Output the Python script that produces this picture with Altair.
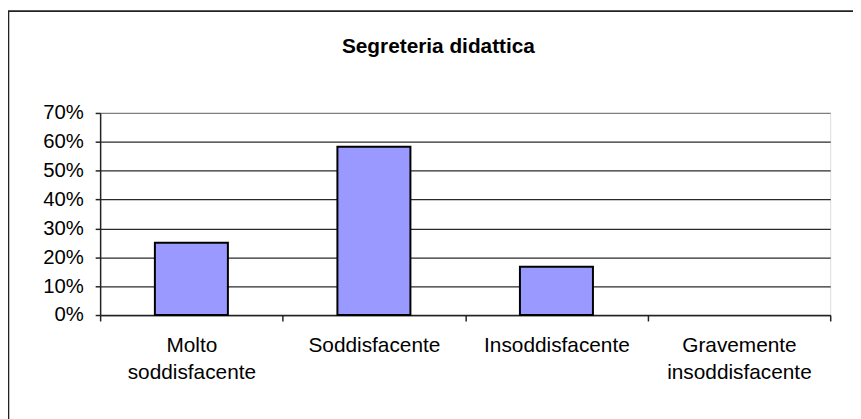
import altair as alt
import pandas as pd

categories = ["Molto soddisfacente", "Soddisfacente", "Insoddisfacente", "Gravemente insoddisfacente"]
values = [0.25, 0.583, 0.167, 0.0]
y_ticks = [0, 0.1, 0.2, 0.3, 0.4, 0.5, 0.6, 0.7]
title_text = "Segreteria didattica"

df = pd.DataFrame({"cat": categories, "val": values})

FONT = "Liberation Sans"

bars = alt.Chart(df).mark_bar(
    width=alt.RelativeBandSize(0.4), color="#9999FF", stroke="#000000", strokeWidth=2
).encode(
    x=alt.X("cat:N", sort=categories, title=None,
            scale=alt.Scale(paddingInner=0, paddingOuter=0),
            axis=alt.Axis(labelAngle=0, tickBand="extent", tickSize=6, labelPadding=14,
                          labelExpr="split(datum.label, ' ')", labelLineHeight=27,
                          labelFont=FONT, labelFontSize=21, labelColor="#000000",
                          labelLimit=400, domainColor="#222222", tickColor="#222222",
                          domainWidth=1.5, tickWidth=1.5, grid=False)),
    y=alt.Y("val:Q", title=None,
            scale=alt.Scale(domain=[0, 0.7], nice=False),
            axis=alt.Axis(values=y_ticks, format=".0%", tickSize=5, labelPadding=12,
                          labelFont=FONT, labelFontSize=20.5, labelColor="#000000",
                          domainColor="#222222", tickColor="#222222", domainWidth=1.5,
                          tickWidth=1.5, grid=True,
                          gridColor={"condition": {"test": "datum.value >= 0.69", "value": "#808080"},
                                     "value": "#2a2a2a"},
                          gridWidth=1.3)),
    strokeOpacity=alt.condition("datum.val > 0", alt.value(1), alt.value(0)),
    fillOpacity=alt.condition("datum.val > 0", alt.value(1), alt.value(0)),
)

frame = alt.Chart(alt.Data(values=[{}])).mark_rect(
    fillOpacity=0, stroke="#222222", strokeWidth=2
).encode(
    x=alt.value(-92.7), x2=alt.value(820), y=alt.value(-102.8), y2=alt.value(420)
)

chart = alt.layer(frame, bars).properties(
    width=737, height=204,
    padding={"left": 93, "top": 104, "right": 23, "bottom": 103},
    autosize=alt.AutoSizeParams(type="none"),
    title=alt.TitleParams(title_text, font=FONT, fontSize=21, fontWeight="bold", color="#000000",
                          anchor="middle", frame="group", dx=-27, offset=0, dy=68, baseline="bottom"),
).configure_view(
    fill="#C0C0C0", stroke="#808080", strokeWidth=2
).configure(background="white")

chart.save("out.html", embed_options={"renderer": "svg", "actions": False})
